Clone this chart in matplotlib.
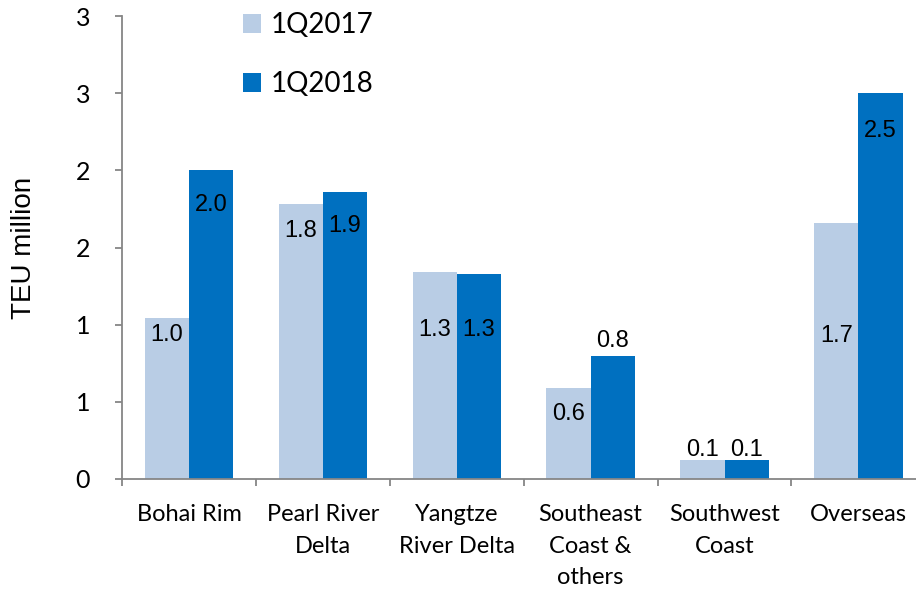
import matplotlib
matplotlib.use("Agg")
import matplotlib.pyplot as plt
import numpy as np

regions = ["Bohai Rim", "Pearl River\nDelta", "Yangtze\nRiver Delta",
           "Southeast\nCoast &\nothers", "Southwest\nCoast", "Overseas"]
teu_2017 = [1.04, 1.78, 1.34, 0.59, 0.12, 1.66]
teu_2018 = [2.00, 1.86, 1.33, 0.80, 0.12, 2.50]
y_ticks = [0, 0.5, 1.0, 1.5, 2.0, 2.5, 3.0]
y_tick_labels = ["0", "1", "1", "2", "2", "3", "3"]

# label offset below the bar top, in pixels (negative = above the bar)
off_2017 = [17, 27, 58, 26, -10, 113]
off_2018 = [35, 34, 56, -15, -10, 38]

light = "#B9CDE5"
dark = "#0070C0"
axis_grey = "#868686"

fig = plt.figure(figsize=(9.16, 5.90), dpi=100)
ax = fig.add_axes([122 / 916, 111 / 590, 794 / 916, 463 / 590])

x = np.arange(len(regions))
w = 0.33
b1 = ax.bar(x - w / 2, teu_2017, w, color=light, label="1Q2017")
b2 = ax.bar(x + w / 2, teu_2018, w, color=dark, label="1Q2018")

for bars, vals, offs in ((b1, teu_2017, off_2017), (b2, teu_2018, off_2018)):
    for bar, v, o in zip(bars, vals, offs):
        ax.annotate(f"{v:.1f}", (bar.get_x() + bar.get_width() / 2, v),
                    xytext=(0, -o * 0.72), textcoords="offset points",
                    ha="center", va="center", fontsize=17,
                    family="Liberation Sans", color="black")

ax.set_xlim(-0.5, 5.43)
ax.set_ylim(0, 3)
ax.set_yticks(y_ticks)
ax.set_yticklabels(y_tick_labels, family="Lato", fontsize=18)
ax.set_xticks(x)
ax.set_xticklabels(regions, family="Lato", fontsize=17, linespacing=1.62,
                   va="top")
ax.tick_params(axis="x", length=0, pad=18)
ax.set_xticks(np.arange(len(regions)) - 0.5, minor=True)
ax.tick_params(axis="x", which="minor", length=5, color=axis_grey, width=1.3)
ax.tick_params(axis="y", length=5, color=axis_grey, width=1.3, pad=18)

for side in ("top", "right"):
    ax.spines[side].set_visible(False)
for side in ("left", "bottom"):
    ax.spines[side].set_color(axis_grey)
    ax.spines[side].set_linewidth(1.3)

ax.set_ylabel("TEU million", family="Liberation Sans", fontsize=20,
              labelpad=28)

ax.legend(loc="upper left", bbox_to_anchor=(218 / 916, 1.022),
          bbox_transform=fig.transFigure, frameon=False,
          prop={"family": "Lato", "size": 20}, handlelength=0.65,
          handleheight=0.65, handletextpad=0.35, labelspacing=1.2)

fig.savefig("out.png", dpi=100)
